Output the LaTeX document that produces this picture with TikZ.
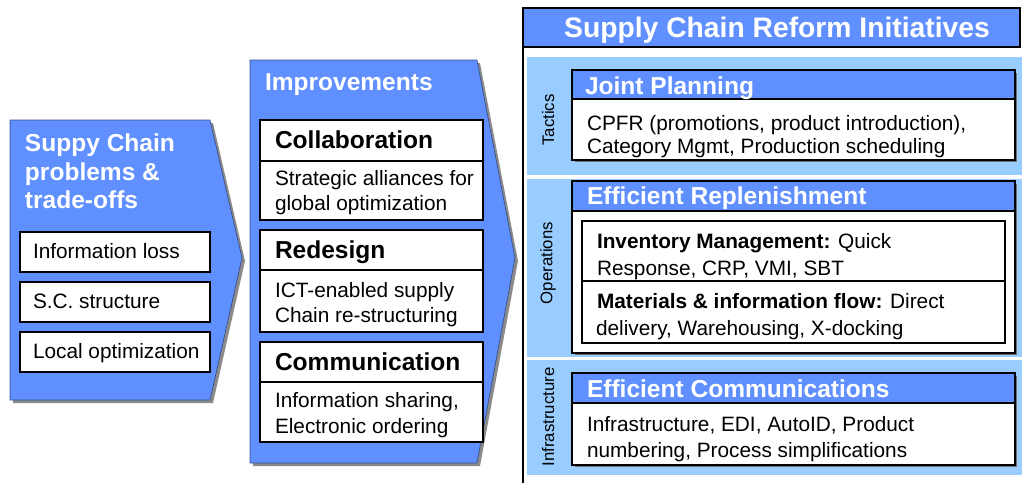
\documentclass[tikz,border=0pt]{standalone}
\usepackage{fontspec}
\setmainfont{Liberation Sans}
\definecolor{mblue}{RGB}{96,144,255}
\definecolor{lblue}{RGB}{153,204,255}
\definecolor{shad}{RGB}{110,110,110}
\begin{document}
\begin{tikzpicture}[x=0.75pt,y=-0.75pt,
  every node/.style={inner sep=0pt,outer sep=0pt},
  ttl/.style={text=white,font=\fontsize{18.4}{22}\selectfont\bfseries,anchor=base west},
  hdr/.style={text=white,font=\fontsize{21.2}{25}\selectfont\bfseries,anchor=base},
  bodytxt/.style={text=black,font=\fontsize{15.6}{19}\selectfont,anchor=base west},
  boldtxt/.style={text=black,font=\fontsize{18.4}{22}\selectfont\bfseries,anchor=base west},
  sidetxt/.style={text=black,font=\fontsize{12.6}{15}\selectfont,rotate=90,anchor=center},
  boxline/.style={draw=black,line width=1.1pt},
  pent/.style={fill=mblue,draw=mblue!55!black,line width=0.5pt},
  pentshadow/.style={fill=shad,opacity=0.8}]
\useasboundingbox (0,0) rectangle (1022,483);

% ---------- left pentagon ----------
\fill[pentshadow] (13,123) -- (213,123) -- (245,261) -- (213,403) -- (13,403) -- cycle;
\path[pent] (10,120) -- (210,120) -- (242,258) -- (210,400) -- (10,400) -- cycle;
\node[ttl] (l1) at (25,151) {Suppy Chain};
\node[ttl] (l2) at (25,180) {problems \&};
\node[ttl] (l3) at (25,208) {trade-offs};
\filldraw[fill=white,boxline] (20,232) rectangle (210,272);
\filldraw[fill=white,boxline] (20,282) rectangle (210,322);
\filldraw[fill=white,boxline] (20,332) rectangle (210,372);
\node[bodytxt] (p1) at (33,258) {Information loss};
\node[bodytxt] (p2) at (33,308) {S.C. structure};
\node[bodytxt] (p3) at (33,358) {Local optimization};

% ---------- middle pentagon ----------
\fill[pentshadow] (253,63) -- (480,63) -- (518,261) -- (480,466) -- (253,466) -- cycle;
\path[pent] (250,60) -- (477,60) -- (515,258) -- (477,463) -- (250,463) -- cycle;
\node[ttl] (m0) at (265,90) {Improvements};
\filldraw[fill=white,boxline] (260,120) rectangle (483,220);
\draw[boxline] (260,161) -- (483,161);
\filldraw[fill=white,boxline] (260,230) rectangle (483,332);
\draw[boxline] (260,270) -- (483,270);
\filldraw[fill=white,boxline] (260,342) rectangle (483,442);
\draw[boxline] (260,382) -- (483,382);
\node[boldtxt] (c0) at (275,148) {Collaboration};
\node[bodytxt] (c1) at (275,185) {Strategic alliances for};
\node[bodytxt] (c2) at (275,210) {global optimization};
\node[boldtxt] (r0) at (275,258) {Redesign};
\node[bodytxt] (r1) at (275,297) {ICT-enabled supply};
\node[bodytxt] (r2) at (275,322) {Chain re-structuring};
\node[boldtxt] (k0) at (275,370) {Communication};
\node[bodytxt] (k1) at (275,407) {Information sharing,};
\node[bodytxt] (k2) at (275,433) {Electronic ordering};

% ---------- right panel ----------
\fill[lblue] (527,57) rectangle (1022,175);
\fill[lblue] (527,179) rectangle (1022,357);
\fill[lblue] (527,360) rectangle (1022,475);
\filldraw[fill=mblue,draw=black,line width=1.1pt] (523,8) rectangle (1020,47);
\draw[black,line width=1.3pt] (523,47) -- (523,483);
\node[hdr] (h0) at (777,37) {Supply Chain Reform Initiatives};

\node[sidetxt] (s1) at (548,120) {Tactics};
\node[sidetxt] (s2) at (548,263) {Operations};
\node[sidetxt] (s3) at (548,417) {Infrastructure};

% Joint Planning
\fill[shad] (575,73) rectangle (1017,162);
\filldraw[fill=white,boxline] (572,70) rectangle (1015,160);
\filldraw[fill=mblue,boxline] (572,70) rectangle (1015,99);
\node[ttl] (j0) at (585,94) {Joint Planning};
\node[bodytxt] (j1) at (587,130) {CPFR (promotions, product introduction),};
\node[bodytxt] (j2) at (587,153) {Category Mgmt, Production scheduling};

% Efficient Replenishment
\fill[shad] (575,184) rectangle (1017,355);
\filldraw[fill=white,boxline] (572,181) rectangle (1015,353);
\filldraw[fill=mblue,boxline] (572,181) rectangle (1015,211);
\node[ttl] (e0) at (587,204) {Efficient Replenishment};
\filldraw[fill=white,boxline] (582,221) rectangle (1005,281);
\filldraw[fill=white,boxline] (582,281) rectangle (1005,343);
\node[bodytxt] (e1) at (597,248) {\bfseries Inventory Management:\mdseries{} Quick};
\node[bodytxt] (e2) at (597,275) {Response, CRP, VMI, SBT};
\node[bodytxt] (e3) at (597,308) {\bfseries Materials \& information flow:\mdseries{} Direct};
\node[bodytxt] (e4) at (596,335) {delivery, Warehousing, X-docking};

% Efficient Communications
\fill[shad] (575,376) rectangle (1017,467);
\filldraw[fill=white,boxline] (572,373) rectangle (1015,465);
\filldraw[fill=mblue,boxline] (572,373) rectangle (1015,403);
\node[ttl] (f0) at (587,397) {Efficient Communications};
\node[bodytxt] (f1) at (587,431) {Infrastructure, EDI, AutoID, Product};
\node[bodytxt] (f2) at (587,457) {numbering, Process simplifications};
\end{tikzpicture}
\end{document}
